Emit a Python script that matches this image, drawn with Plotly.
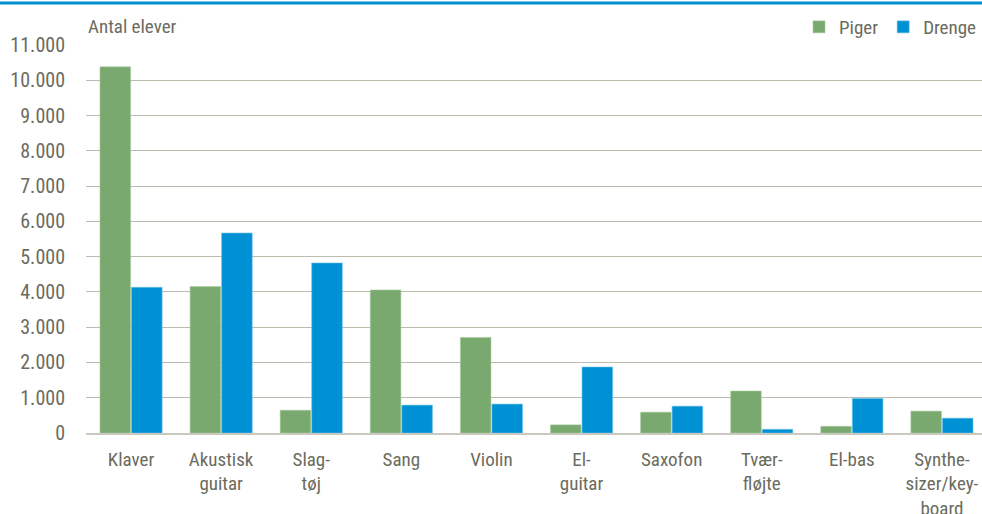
import plotly.graph_objects as go

categories = ["Klaver", "Akustisk<br>guitar", "Slag-<br>tøj", "Sang", "Violin", "El-<br>guitar",
              "Saxofon", "Tvær-<br>fløjte", "El-bas", "Synthe-<br>sizer/key-<br>board"]
piger = [10380, 4150, 645, 4055, 2710, 230, 590, 1190, 190, 620]
drenge = [4130, 5670, 4820, 790, 820, 1870, 760, 105, 980, 420]
y_ticks = list(range(0, 11001, 1000))

FONT = "Roboto Condensed, Liberation Sans Narrow, Arial Narrow, sans-serif"
TXT = "#6b6b5e"
FS = 20
W, H = 982, 514
L, R, T, B = 86, 0, 45, 81
pw = W - L - R
ph = H - T - B

fig = go.Figure()
fig.add_trace(go.Bar(name="Piger", x=categories, y=piger,
                     marker=dict(color="#79A96F", line=dict(color="#a6cb9e", width=0.6))))
fig.add_trace(go.Bar(name="Drenge", x=categories, y=drenge,
                     marker=dict(color="#0090D4", line=dict(color="#6cc0ea", width=0.6))))

spacing = 90.1
fig.update_layout(
    width=W, height=H,
    margin=dict(l=L, r=R, t=T, b=B, pad=0, autoexpand=False),
    paper_bgcolor="white", plot_bgcolor="white",
    separators=",.",
    barmode="group", bargap=0.30, bargroupgap=0.03,
    font=dict(family=FONT, size=FS, color=TXT),
    legend=dict(orientation="h", x=1.0, xanchor="right", y=1 + 18 / ph, yanchor="middle",
                font=dict(family=FONT, size=FS - 1, color=TXT), itemwidth=30, traceorder="normal",
                bgcolor="rgba(0,0,0,0)", tracegroupgap=0, borderwidth=0),
    xaxis=dict(range=[-0.5, -0.5 + pw / spacing], showgrid=False, showline=True,
               linecolor="#c9c9c0", linewidth=1.5, ticks="", automargin=False,
               tickfont=dict(family=FONT, size=FS - 1, color=TXT),
               ticklabelstandoff=8, fixedrange=True),
    yaxis=dict(range=[0, 11000], tickvals=y_ticks, tickformat=",d", showgrid=True,
               gridcolor="#bcbcae", gridwidth=1.3, zeroline=False, showline=False,
               ticks="", ticklabelstandoff=20, fixedrange=True, automargin=False,
               tickfont=dict(family=FONT, size=FS, color=TXT)),
    annotations=[dict(text="Antal elever", xref="paper", yref="paper", x=0, y=1 + 18 / ph,
                      xanchor="left", yanchor="middle", showarrow=False,
                      font=dict(family=FONT, size=FS - 1, color=TXT))],
    shapes=[dict(type="line", xref="paper", yref="paper", x0=-L / pw, x1=1.0,
                 y0=1 + (T - 3) / ph, y1=1 + (T - 3) / ph,
                 line=dict(color="#0090D0", width=3))],
)

fig.write_html("out.html", config={"displayModeBar": False},
               post_script="document.body.style.margin='0';document.body.style.overflow='hidden';")
